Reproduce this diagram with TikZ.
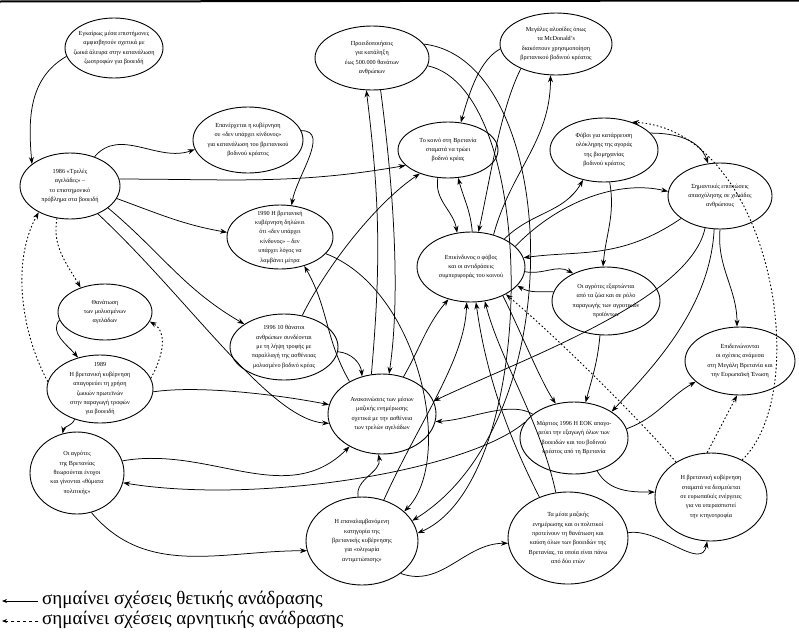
\documentclass[tikz,border=0pt]{standalone}
\usepackage{fontspec}
\setmainfont{Liberation Serif}
\usetikzlibrary{shapes.geometric,arrows.meta}
\begin{document}
\begin{tikzpicture}[x=1pt,y=-1pt,
  ell/.style={ellipse,draw,line width=0.9pt,inner sep=0pt},
  txt/.style={align=center,font=\fontsize{6.2}{9.4}\selectfont,inner sep=0pt},
  posarr/.style={line width=0.75pt,-{Stealth[length=7pt,width=5pt]}},
  negarr/.style={line width=0.9pt,dash pattern=on 1.6pt off 2.2pt,-{Stealth[length=7pt,width=5pt]}},
  legtext/.style={font=\fontsize{19}{21}\selectfont,anchor=west,inner sep=0pt}]
\useasboundingbox (0,0) rectangle (799,632);
\draw[line width=2pt] (0,1.5) -- (799,0.5);
% ellipses
\node[ell,minimum width=98pt,minimum height=60pt] (E1) at (114,48) {};
\node[txt] at (E1) {Εγκαίρως μέσα επιστήμονες\\αμφισβητούν σχετικά με\\ζωικά άλευρα στην κατανάλωση\\ζωοτροφών για βοοειδή};
\node[ell,minimum width=110pt,minimum height=66pt] (E2) at (248,140) {};
\node[txt] at (E2) {Επανέρχεται η κυβέρνηση\\σε «δεν υπάρχει κίνδυνος»\\για κατανάλωση του βρετανικού\\βοδινού κρέατος};
\node[ell,minimum width=100pt,minimum height=66pt] (E3) at (70,186) {};
\node[txt] at (E3) {1986 «Τρελές\\αγελάδες» –\\το επιστημονικό\\πρόβλημα στα βοοειδή};
\node[ell,minimum width=106pt,minimum height=64pt] (E4) at (280,237) {};
\node[txt] at (E4) {1990 Η βρετανική\\κυβέρνηση δηλώνει\\ότι «δεν υπάρχει\\κίνδυνος» – δεν\\υπάρχει λόγος να\\λαμβάνει μέτρα};
\node[ell,minimum width=114pt,minimum height=64pt] (E5) at (372,58) {};
\node[txt] at (E5) {Προειδοποιήσεις\\για κατάληξη\\έως 500.000 θανάτων\\ανθρώπων};
\node[ell,minimum width=112pt,minimum height=62pt] (E6) at (556,44) {};
\node[txt] at (E6) {Μεγάλες αλυσίδες όπως\\τα McDonald's\\διακόπτουν χρησιμοποίηση\\βρετανικού βοδινού κρέατος};
\node[ell,minimum width=100pt,minimum height=56pt] (E7) at (448,150) {};
\node[txt] at (E7) {Το κοινό στη Βρετανία\\σταματά να τρώει\\βοδινό κρέας};
\node[ell,minimum width=108pt,minimum height=64pt] (E8) at (604,150) {};
\node[txt] at (E8) {Φόβοι για κατάρρευση\\ολόκληρης της αγοράς\\της βιομηχανίας\\βοδινού κρέατος};
\node[ell,minimum width=104pt,minimum height=66pt] (E9) at (720,196) {};
\node[txt] at (E9) {Σημαντικές επιπτώσεις\\απασχόλησης σε χιλιάδες\\ανθρώπους};
\node[ell,minimum width=108pt,minimum height=70pt] (E10) at (471,267) {};
\node[txt] at (E10) {Επικίνδυνος ο φόβος\\και οι αντιδράσεις\\συμπεριφοράς του κοινού};
\node[ell,minimum width=108pt,minimum height=68pt] (E11) at (606,301) {};
\node[txt] at (E11) {Οι αγρότες εξαρτώνται\\από τα ζώα και σε ρόλο\\παραγωγής των αγροτικών\\προϊόντων};
\node[ell,minimum width=94pt,minimum height=56pt] (E12) at (105,312) {};
\node[txt] at (E12) {Θανάτωση\\των μολυσμένων\\αγελάδων};
\node[ell,minimum width=106pt,minimum height=68pt] (E13) at (100,389) {};
\node[txt] at (E13) {1989\\Η βρετανική κυβέρνηση\\απαγορεύει τη χρήση\\ζωικών πρωτεϊνών\\στην παραγωγή τροφών\\για βοοειδή};
\node[ell,minimum width=108pt,minimum height=66pt] (E14) at (284,347) {};
\node[txt] at (E14) {1996 10 θάνατοι\\ανθρώπων συνδέονται\\με τη λήψη τροφής με\\παραλλαγή της ασθένειας\\μολυσμένο βοδινό κρέας};
\node[ell,minimum width=108pt,minimum height=80pt] (E15) at (382,414) {};
\node[txt] at (E15) {Ανακοινώσεις των μέσων\\μαζικής ενημέρωσης\\σχετικά με την ασθένεια\\των τρελών αγελάδων};
\node[ell,minimum width=94pt,minimum height=82pt] (E16) at (77,473) {};
\node[txt] at (E16) {Οι αγρότες\\της Βρετανίας\\θεωρούνται ένοχοι\\και γίνονται «θύματα\\πολιτικής»};
\node[ell,minimum width=112pt,minimum height=88pt] (E17) at (362,541) {};
\node[txt] at (E17) {Η επαναλαμβανόμενη\\κατηγορία της\\βρετανικής κυβέρνησης\\για «ολιγωρία\\αντιμετώπισης»};
\node[ell,minimum width=120pt,minimum height=92pt] (E18) at (568,538) {};
\node[txt] at (E18) {Τα μέσα μαζικής\\ενημέρωσης και οι πολιτικοί\\προτείνουν τη θανάτωση και\\καύση όλων των βοοειδών της\\Βρετανίας, τα οποία είναι πάνω\\από δύο ετών};
\node[ell,minimum width=108pt,minimum height=72pt] (E19) at (574,438) {};
\node[txt] at (E19) {Μάρτιος 1996 Η ΕΟΚ απαγο-\\ρεύει την εξαγωγή όλων των\\βοοειδών και του βοδινού\\κρέατος από τη Βρετανία};
\node[ell,minimum width=110pt,minimum height=68pt] (E20) at (740,361) {};
\node[txt] at (E20) {Επιδεινώνονται\\οι σχέσεις ανάμεσα\\στη Μεγάλη Βρετανία και\\την Ευρωπαϊκή Ένωση};
\node[ell,minimum width=112pt,minimum height=88pt] (E21) at (711,497) {};
\node[txt] at (E21) {Η βρετανική κυβέρνηση\\σταματά να δεσμεύεται\\σε ευρωπαϊκές ενέργειες\\για να υπερασπιστεί\\την κτηνοτροφία};
% positive connectors
\draw[posarr] (E1.190) to[out=210,in=95] (E3.150);
\draw[posarr] (E3.50) to[out=50,in=200] (E2.190);
\draw[posarr] (E3.8) to[out=0,in=190] (E7.200);
\draw[posarr] (E3.-15) to[out=-20,in=170] (E4.175);
\draw[posarr] (E3.-30) to[out=-40,in=150] (E14.150);
\draw[posarr] (E3.-45) .. controls (190,300) and (270,420) .. (E15.-170);
\draw[posarr] (E2.10) to[out=0,in=80] (E4.70);
\draw[posarr] (E4.-20) .. controls (420,290) and (455,460) .. (E17.35);
\draw[posarr] (E5.15) .. controls (560,60) and (575,420) .. (E17.22);
\draw[posarr] (E5.-8) .. controls (540,90) and (540,480) .. (E17.8);
\draw[posarr] (E5.-75) .. controls (395,200) and (400,300) .. (E15.80);
\draw[posarr] (E15.105) to[bend right=6] (E5.-100);
\draw[posarr] (E15.135) to[out=120,in=-60] (E4.-50);
\draw[posarr] (E6.185) .. controls (480,60) and (470,90) .. (E7.65);
\draw[posarr] (E10.55) to[out=75,in=-90] (E6.-100);
\draw[posarr] (E6.215) .. controls (500,110) and (490,180) .. (E10.78);
\draw[posarr] (E7.-110) to[out=-100,in=100] (E10.112);
\draw[posarr] (E10.88) to[out=95,in=-75] (E7.-70);
\draw[posarr] (E14.60) .. controls (330,260) and (380,200) .. (E7.-140);
\draw[posarr] (E10.40) to[out=45,in=-120] (E8.-125);
\draw[posarr] (E8.-80) to[out=-80,in=85] (E11.95);
\draw[posarr] (E10.-5) to[out=-10,in=150] (E11.140);
\draw[posarr] (E11.170) to[out=180,in=-30] (E10.-22);
\draw[posarr] (E9.-150) .. controls (620,260) and (580,250) .. (E10.10);
\draw[posarr] (E10.25) .. controls (560,200) and (620,180) .. (E9.175);
\draw[posarr] (E8.20) to[out=0,in=110] (E9.110);
\draw[posarr] (E9.-90) to[out=-95,in=90] (E20.95);
\draw[posarr] (E9.-115) .. controls (690,300) and (520,360) .. (E15.14);
\draw[posarr] (E9.-100) .. controls (710,310) and (650,370) .. (E19.35);
\draw[posarr] (E10.-42) .. controls (520,330) and (540,380) .. (E19.118);
\draw[posarr] (E11.-100) to[out=-95,in=75] (E19.72);
\draw[posarr] (E19.10) to[out=20,in=-150] (E20.-155);
\draw[posarr] (E19.-55) to[out=-60,in=180] (E21.175);
\draw[posarr] (E18.5) to[out=10,in=-100] (E21.-95);
\draw[posarr] (E17.-40) to[out=-20,in=180] (E18.185);
\draw[posarr] (E16.-70) to[out=-50,in=180] (E17.190);
\draw[posarr] (E17.95) to[out=100,in=-80] (E15.-95);
\draw[posarr] (E16.15) to[out=10,in=-135] (E15.-135);
\draw[posarr] (E19.162) .. controls (470,470) and (260,505) .. (E16.-12);
\draw[posarr] (E19.150) .. controls (510,400) and (470,420) .. (E15.-8);
\draw[posarr] (E12.190) to[out=230,in=130] (E13.125);
\draw[posarr] (E13.-130) to[out=-110,in=80] (E16.110);
\draw[posarr] (E13.-3) .. controls (200,385) and (280,395) .. (E15.170);
\draw[posarr] (E14.-5) to[out=-5,in=95] (E15.118);
\draw[posarr] (E15.60) to[out=60,in=-130] (E10.-125);
\draw[posarr] (E17.62) .. controls (420,420) and (465,360) .. (E10.-97);
\draw[posarr] (E18.125) .. controls (500,420) and (484,360) .. (E10.-82);
\draw[posarr] (E18.105) .. controls (540,420) and (500,360) .. (E10.-68);
% negative connectors
\draw[negarr] (E13.172) .. controls (20,330) and (12,260) .. (E3.-140);
\draw[negarr] (E3.-112) to[out=-100,in=120] (E12.135);
\draw[negarr] (E13.12) to[out=60,in=-30] (E12.-12);
\draw[negarr] (E21.50) .. controls (815,390) and (770,130) .. (E8.45);
\draw[negarr] (E21.95) -- (E20.-95);
\draw[negarr] (E21.135) .. controls (640,420) and (560,340) .. (E10.-38);
% legend
\coordinate (L1a) at (38,601); \coordinate (L1b) at (2,601);
\coordinate (L2a) at (38,621); \coordinate (L2b) at (2,621);
\draw[line width=0.8pt,-{Stealth[length=5pt,width=4pt]}] (L1a) -- (L1b);
\draw[line width=0.9pt,dash pattern=on 3pt off 3pt,-{Stealth[length=5pt,width=4pt]}] (L2a) -- (L2b);
\node[legtext] (T1) at (42,600) {σημαίνει σχέσεις θετικής ανάδρασης};
\node[legtext] (T2) at (42,620) {σημαίνει σχέσεις αρνητικής ανάδρασης};
\end{tikzpicture}
\end{document}
